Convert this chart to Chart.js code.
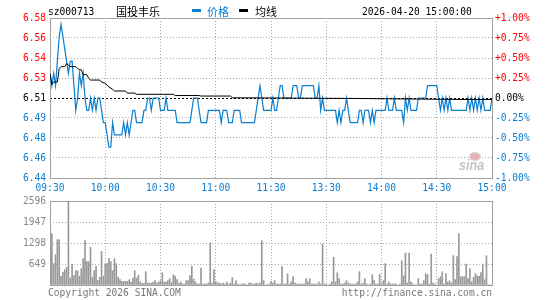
<!DOCTYPE html>
<html>
<head>
<meta charset="utf-8">
<script src="https://cdn.jsdelivr.net/npm/chart.js@4.4.1/dist/chart.umd.min.js"></script>
<style>
  html, body { margin: 0; padding: 0; background: #fff; }
  #wrap { position: relative; width: 545px; height: 300px; overflow: hidden; font-family: 'DejaVu Sans Mono', monospace; }
  #price-chart { position: absolute; left: 0; top: 0; }
  #volume-chart { position: absolute; left: 0; top: 190px; }
  .txt { position: absolute; white-space: nowrap; font-size: 9.6px; line-height: 12px; color: #000; }
  .cjk { font-family: 'Noto Sans CJK SC', sans-serif; font-size: 11px; line-height: 14px; }
  .dash { position: absolute; width: 9px; height: 3px; }
  .foot { color: #777; }
  #logo { position: absolute; left: 458px; top: 152px; width: 34px; height: 24px; }
  #logo .eye { position: absolute; left: 11px; top: 0; width: 10px; height: 7px; border-radius: 50%; background: #e9b2b2; border: 1px solid #d9d9d9; }
  #logo .word { position: absolute; left: 1px; top: 5px; font: italic bold 14px 'Liberation Sans', sans-serif; color: #c4c4c4; transform: scaleX(0.9); transform-origin: left; }
</style>
</head>
<body>
<div id="wrap">
  <canvas id="price-chart" width="545" height="200"></canvas>
  <canvas id="volume-chart" width="545" height="110"></canvas>

  <div class="txt" style="left:48px; top:6px;">sz000713</div>
  <div class="txt cjk" style="left:116px; top:4px;">国投丰乐</div>
  <div class="dash" style="left:192px; top:9px; background:#0a7fd0;"></div>
  <div class="txt cjk" style="left:207px; top:4px; color:#0a7fd0;">价格</div>
  <div class="dash" style="left:239px; top:9px; background:#000;"></div>
  <div class="txt cjk" style="left:255px; top:4px;">均线</div>
  <div class="txt" style="left:362px; top:6px;">2026-04-20 15:00:00</div>

  <div id="logo"><div class="eye"></div><div class="word">sina</div></div>

  <div class="txt foot" style="left:48px; top:287px;">Copyright 2026 SINA.COM</div>
  <div class="txt foot" style="right:53px; top:287px;">http://finance.sina.com.cn</div>
</div>

<script>
const timeLabels = ['09:30', '10:00', '10:30', '11:00', '11:30', '13:30', '14:00', '14:30', '15:00'];

const prevClose = 6.51;
const pctSteps = [-1, -0.75, -0.5, -0.25, 0, 0.25, 0.5, 0.75, 1];
const priceLabels = ['6.44', '6.46', '6.48', '6.49', '6.51', '6.53', '6.54', '6.56', '6.58'];
const pctLabels = ['-1.00%', '-0.75%', '-0.50%', '-0.25%', '0.00%', '+0.25%', '+0.50%', '+0.75%', '+1.00%'];

// 09:30 - 11:30, one value a minute
const priceAM = [
  6.53, 6.52, 6.53, 6.52, 6.54, 6.56, 6.57, 6.56, 6.55, 6.54,
  6.53, 6.54, 6.54, 6.52, 6.50, 6.51, 6.53, 6.52, 6.53, 6.51,
  6.50, 6.50, 6.51, 6.50, 6.51, 6.50, 6.51, 6.51, 6.50, 6.49,
  6.49, 6.48, 6.47, 6.47, 6.49, 6.48, 6.48, 6.48, 6.48, 6.48,
  6.49, 6.48, 6.49, 6.48, 6.49, 6.50, 6.50, 6.49, 6.49, 6.49,
  6.49, 6.50, 6.50, 6.51, 6.51, 6.50, 6.51, 6.51, 6.51, 6.51,
  6.50, 6.50, 6.50, 6.51, 6.50, 6.50, 6.50, 6.50, 6.50, 6.49,
  6.49, 6.49, 6.49, 6.49, 6.49, 6.49, 6.49, 6.50, 6.51, 6.51,
  6.51, 6.50, 6.49, 6.49, 6.49, 6.49, 6.50, 6.50, 6.50, 6.50,
  6.50, 6.50, 6.50, 6.49, 6.50, 6.50, 6.50, 6.49, 6.49, 6.49,
  6.50, 6.50, 6.50, 6.50, 6.49, 6.49, 6.49, 6.49, 6.49, 6.49,
  6.49, 6.49, 6.50, 6.51, 6.52, 6.51, 6.50, 6.50, 6.50, 6.50, 6.50,
];

// 13:01 - 15:00
const pricePM = [
  6.51, 6.50, 6.50, 6.51, 6.52, 6.52, 6.51, 6.51, 6.51, 6.51,
  6.51, 6.52, 6.52, 6.52, 6.51, 6.51, 6.52, 6.52, 6.52, 6.52,
  6.52, 6.52, 6.52, 6.51, 6.51, 6.52, 6.50, 6.51, 6.50, 6.50,
  6.50, 6.50, 6.50, 6.50, 6.50, 6.49, 6.50, 6.49, 6.50, 6.50,
  6.51, 6.50, 6.49, 6.49, 6.49, 6.49, 6.49, 6.50, 6.50, 6.49,
  6.50, 6.50, 6.50, 6.49, 6.50, 6.49, 6.50, 6.50, 6.50, 6.50,
  6.50, 6.50, 6.51, 6.50, 6.50, 6.50, 6.51, 6.50, 6.50, 6.50,
  6.50, 6.49, 6.51, 6.50, 6.51, 6.50, 6.50, 6.50, 6.50, 6.51,
  6.51, 6.51, 6.51, 6.51, 6.52, 6.52, 6.52, 6.52, 6.52, 6.52,
  6.51, 6.50, 6.51, 6.50, 6.51, 6.50, 6.51, 6.50, 6.50, 6.50,
  6.50, 6.50, 6.50, 6.50, 6.50, 6.50, 6.51, 6.50, 6.51, 6.50,
  6.51, 6.50, 6.51, 6.50, 6.51, 6.50, 6.50, 6.50, 6.50, 6.51,
];

// average price line, read where it changes
const avgMinutes = [0, 1, 2, 4, 5, 6, 8, 9, 10, 11, 14, 15, 16, 17, 18, 20, 21, 22, 27, 28, 30, 32, 34, 35, 41, 42, 46, 47, 67, 68, 81, 82, 98, 99, 168, 222, 240];
const avgValues = [6.530, 6.521, 6.523, 6.523, 6.534, 6.5355, 6.5355, 6.538, 6.537, 6.5355, 6.5355, 6.534, 6.533, 6.533, 6.529, 6.529, 6.526, 6.5246, 6.5246, 6.523, 6.522, 6.519, 6.517, 6.5157, 6.5157, 6.514, 6.514, 6.513, 6.513, 6.512, 6.512, 6.5116, 6.5116, 6.5102, 6.5096, 6.5088, 6.5088];

const volumeTicks = [0, 649, 1298, 1947, 2596];

const volumeAM = [
  268, 1586, 660, 937, 1400, 1400, 268, 391, 474, 546,
  2596, 216, 649, 288, 443, 443, 268, 505, 814, 1370,
  721, 721, 1164, 237, 443, 577, 134, 237, 1040, 268,
  660, 660, 814, 721, 443, 814, 660, 237, 165, 113,
  113, 113, 113, 165, 93, 216, 443, 216, 299, 93,
  52, 52, 412, 62, 62, 52, 93, 134, 62, 93,
  134, 381, 93, 93, 134, 196, 72, 319, 268, 165,
  62, 93, 31, 31, 134, 134, 288, 577, 185, 93,
  31, 31, 525, 31, 31, 31, 62, 1298, 62, 474,
  113, 62, 62, 31, 62, 31, 93, 31, 62, 237,
  31, 134, 31, 0, 31, 31, 31, 0, 62, 62,
  31, 31, 62, 31, 62, 1370, 134, 0, 0, 31, 113,
];

const volumePM = [
  62, 134, 31, 31, 31, 566, 31, 31, 350, 31,
  93, 257, 62, 31, 31, 31, 31, 31, 196, 93,
  196, 31, 31, 31, 31, 93, 31, 1267, 31, 31,
  0, 31, 93, 855, 93, 381, 196, 31, 31, 62,
  134, 62, 31, 31, 31, 31, 93, 412, 31, 62,
  196, 31, 0, 31, 319, 134, 31, 31, 319, 31,
  134, 660, 31, 93, 31, 31, 31, 31, 0, 31,
  752, 288, 989, 62, 989, 93, 31, 0, 0, 196,
  31, 31, 134, 350, 319, 31, 958, 62, 31, 0,
  196, 257, 412, 31, 350, 93, 134, 62, 906, 165,
  876, 1586, 257, 257, 257, 649, 196, 505, 93, 237,
  350, 288, 268, 381, 649, 165, 906, 0, 0, 0,
];

const BLUE = '#0a7fd0';
const RED = '#ff0000';
const GRID = '#a8a8a8';
const FRAME = '#a0a0a0';
const MONO = "'DejaVu Sans Mono', monospace";

const prices = priceAM.concat(pricePM);
const volumes = volumeAM.concat(volumePM);
const lastMinute = prices.length - 1;

function levelColor(index) {
  if (index < 4) return BLUE;
  if (index === 4) return '#000';
  return RED;
}

const framePlugin = {
  id: 'frame',
  beforeDatasetsDraw(chart) {
    const { ctx, chartArea } = chart;
    ctx.save();
    ctx.strokeStyle = FRAME;
    ctx.lineWidth = 1;
    ctx.setLineDash([]);
    ctx.strokeRect(
      Math.round(chartArea.left) + 0.5,
      Math.round(chartArea.top) + 0.5,
      Math.round(chartArea.right) - Math.round(chartArea.left),
      Math.round(chartArea.bottom) - Math.round(chartArea.top),
    );
    ctx.restore();
  },
};

function setPctTicks(axis) {
  axis.ticks = pctSteps.map((p) => ({ value: prevClose * (1 + p / 100) }));
}

function timeAxis(showLabels) {
  return {
    type: 'linear',
    min: 0,
    max: lastMinute,
    offset: false,
    afterBuildTicks: (axis) => {
      axis.ticks = timeLabels.map((_, i) => ({ value: i * 30 }));
    },
    afterFit: (axis) => {
      axis.height = showLabels ? 22 : 0;
    },
    grid: {
      offset: false,
      drawTicks: false,
      lineWidth: 1,
      color: (ctx) => (ctx.index === 0 || ctx.index === timeLabels.length - 1 ? 'rgba(0,0,0,0)' : GRID),
    },
    border: { display: false, dash: [1, 2] },
    ticks: {
      display: showLabels,
      autoSkip: false,
      maxRotation: 0,
      padding: 5,
      color: BLUE,
      font: { family: MONO, size: 9.6 },
      callback: (value, index) => timeLabels[index],
    },
  };
}

new Chart(document.getElementById('price-chart'), {
  type: 'line',
  data: {
    datasets: [
      {
        label: '均线',
        data: avgMinutes.map((m, i) => ({ x: m, y: avgValues[i] })),
        borderColor: '#000',
        borderWidth: 1,
        pointRadius: 0,
        tension: 0,
        order: 0,
      },
      {
        label: '价格',
        data: prices.map((v, i) => ({ x: i, y: v })),
        borderColor: BLUE,
        borderWidth: 1.2,
        pointRadius: 0,
        tension: 0,
        order: 1,
      },
    ],
  },
  options: {
    responsive: false,
    animation: false,
    layout: { padding: { top: 18, left: 0, right: 0, bottom: 0 } },
    plugins: { legend: { display: false }, tooltip: { enabled: false } },
    scales: {
      x: timeAxis(true),
      y: {
        position: 'left',
        min: prevClose * 0.99,
        max: prevClose * 1.01,
        afterBuildTicks: setPctTicks,
        afterFit: (axis) => {
          axis.width = 50;
        },
        grid: {
          drawTicks: false,
          lineWidth: 1,
          color: (ctx) => {
            if (ctx.index === 0 || ctx.index === pctSteps.length - 1) return 'rgba(0,0,0,0)';
            return ctx.index === 4 ? '#000' : GRID;
          },
        },
        border: { display: false, dash: (ctx) => (ctx.index === 4 ? [2, 2] : [1, 2]) },
        ticks: {
          padding: 4,
          color: (ctx) => levelColor(ctx.index),
          font: { family: MONO, size: 9.6 },
          callback: (value, index) => priceLabels[index],
        },
      },
      y2: {
        position: 'right',
        min: prevClose * 0.99,
        max: prevClose * 1.01,
        afterBuildTicks: setPctTicks,
        afterFit: (axis) => {
          axis.width = 53;
        },
        grid: { display: false, drawTicks: false },
        border: { display: false },
        ticks: {
          padding: 3,
          color: (ctx) => levelColor(ctx.index),
          font: { family: MONO, size: 9.6 },
          callback: (value, index) => pctLabels[index],
        },
      },
    },
  },
  plugins: [framePlugin],
});

new Chart(document.getElementById('volume-chart'), {
  type: 'bar',
  data: {
    datasets: [
      {
        label: 'volume',
        data: volumes.map((v, i) => ({ x: i, y: v })),
        backgroundColor: '#999999',
        barThickness: 1,
      },
    ],
  },
  options: {
    responsive: false,
    animation: false,
    layout: { padding: { top: 11, left: 0, right: 53, bottom: 15 } },
    plugins: { legend: { display: false }, tooltip: { enabled: false } },
    scales: {
      x: timeAxis(false),
      y: {
        min: 0,
        max: volumeTicks[volumeTicks.length - 1],
        afterBuildTicks: (axis) => {
          axis.ticks = volumeTicks.map((v) => ({ value: v }));
        },
        afterFit: (axis) => {
          axis.width = 50;
        },
        grid: {
          drawTicks: false,
          lineWidth: 1,
          color: (ctx) => (ctx.index === 0 || ctx.index === volumeTicks.length - 1 ? 'rgba(0,0,0,0)' : GRID),
        },
        border: { display: false, dash: [1, 2] },
        ticks: {
          padding: 4,
          color: '#888',
          font: { family: MONO, size: 9.6 },
          callback: (value, index) => (index === 0 ? '' : String(volumeTicks[index])),
        },
      },
    },
  },
  plugins: [framePlugin],
});
</script>
</body>
</html>
